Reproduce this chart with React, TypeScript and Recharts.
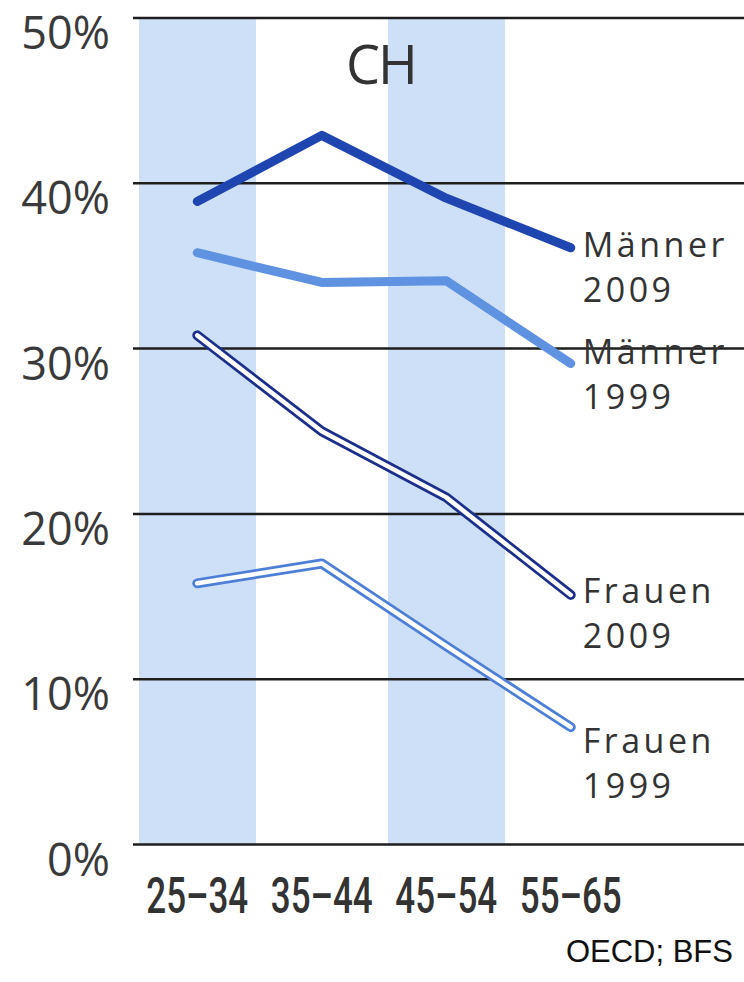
import React from 'react';
import {ComposedChart, Line, Bar, XAxis, YAxis, ReferenceLine, LabelList} from 'recharts';

const ages = ['25–34', '35–44', '45–54', '55–65'];
const maenner2009 = [38.9, 42.9, 39.1, 36.1];
const maenner1999 = [35.8, 34.0, 34.1, 29.1];
const frauen2009 = [30.8, 25.0, 21.0, 15.1];
const frauen1999 = [15.8, 17.0, 12.0, 7.1];
const shade = [50, 0, 50, 0];
const yTicks = [0, 10, 20, 30, 40, 50];

const data = ages.map((age, i) => ({
    age,
    m09: maenner2009[i],
    m99: maenner1999[i],
    f09: frauen2009[i],
    f99: frauen1999[i],
    shade: shade[i],
}));

const labelFont = "'Open Sans', 'DejaVu Sans', sans-serif";

// end-of-line labels: two text lines, offset from the last point
const makeEndLabel = (first: string, second: string, dy: number) => (props: any) => {
    const {x, y, index} = props;
    if (index !== ages.length - 1) return null;
    const style = {fill: '#333', fontFamily: labelFont, fontSize: 34, letterSpacing: 3.5};
    return (
        <g>
            <text x={x + 12} y={y + dy} style={style}>{first}</text>
            <text x={x + 12} y={y + dy + 45} style={style}>{second}</text>
        </g>
    );
};

const YTick = (props: any) => {
    const {y, payload} = props;
    return (
        <text x={110} y={y + 31} textAnchor="end" fill="#3a3a3a" fontFamily={labelFont} fontSize={45}>
            {payload.value}%
        </text>
    );
};

// condensed look: squeeze the glyphs horizontally
const XTick = (props: any) => {
    const {x, y, payload} = props;
    return (
        <text transform={`translate(${x},${y + 68.5}) scale(0.7,1)`} textAnchor="middle" fill="#333"
              fontFamily="Roboto, 'DejaVu Sans', sans-serif" fontSize={50} fontWeight={500}>
            {payload.value}
        </text>
    );
};

const App = () => {
    return (
        <div style={{position: 'absolute', left: 0, top: 0, width: 744, height: 982, background: '#fff'}}>
            <ComposedChart width={744} height={982} data={data}
                           margin={{top: 18, right: 0, bottom: 0, left: 0}} barCategoryGap={4}>
                <XAxis dataKey="age" height={137.5} padding={{left: 2, right: 111}}
                       axisLine={false} tickLine={false} tickSize={0} tickMargin={0}
                       interval={0} tick={<XTick/>}/>
                <YAxis domain={[0, 50]} ticks={yTicks} width={133}
                       axisLine={false} tickLine={false} tickSize={0} tickMargin={0} tick={<YTick/>}/>
                <Bar dataKey="shade" fill="#cde0f8" isAnimationActive={false}/>
                {yTicks.map(t => (
                    <ReferenceLine key={t} y={t} stroke="#1e1e1e" strokeWidth={2.5}/>
                ))}
                <Line dataKey="f99" stroke="#4d7fd6" strokeWidth={10} strokeLinecap="round" strokeLinejoin="round"
                      dot={false} activeDot={false} isAnimationActive={false}>
                    <LabelList dataKey="f99" content={makeEndLabel('Frauen', '1999', 26)}/>
                </Line>
                <Line dataKey="f99" stroke="#ffffff" strokeWidth={4.5} strokeLinecap="round" strokeLinejoin="round"
                      dot={false} activeDot={false} isAnimationActive={false}/>
                <Line dataKey="f09" stroke="#1c2f8a" strokeWidth={10} strokeLinecap="round" strokeLinejoin="round"
                      dot={false} activeDot={false} isAnimationActive={false}>
                    <LabelList dataKey="f09" content={makeEndLabel('Frauen', '2009', 8)}/>
                </Line>
                <Line dataKey="f09" stroke="#ffffff" strokeWidth={4.5} strokeLinecap="round" strokeLinejoin="round"
                      dot={false} activeDot={false} isAnimationActive={false}/>
                <Line dataKey="m99" stroke="#5f92e0" strokeWidth={9} strokeLinecap="round" strokeLinejoin="round"
                      dot={false} activeDot={false} isAnimationActive={false}>
                    <LabelList dataKey="m99" content={makeEndLabel('Männer', '1999', 1)}/>
                </Line>
                <Line dataKey="m09" stroke="#1f45b0" strokeWidth={9} strokeLinecap="round" strokeLinejoin="round"
                      dot={false} activeDot={false} isAnimationActive={false}>
                    <LabelList dataKey="m09" content={makeEndLabel('Männer', '2009', 9)}/>
                </Line>
            </ComposedChart>
            <svg width={744} height={982} style={{position: 'absolute', left: 0, top: 0, pointerEvents: 'none'}}>
                <text x={381} y={84} textAnchor="middle" fill="#333" fontFamily={labelFont} fontSize={54}
                      letterSpacing={-2}>CH</text>
                <text x={733} y={962} textAnchor="end" fill="#111"
                      fontFamily="'Liberation Sans', Arial, sans-serif" fontSize={31}>OECD; BFS</text>
            </svg>
        </div>
    );
};

export default App;
